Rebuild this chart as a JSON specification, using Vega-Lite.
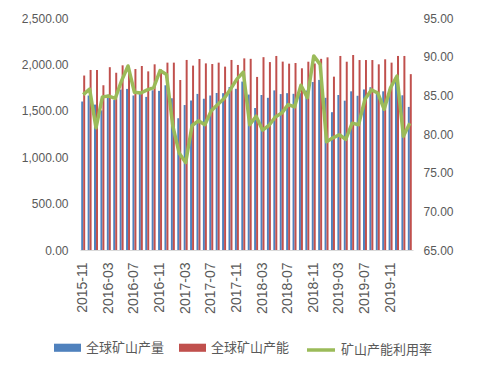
{
  "$schema": "https://vega.github.io/schema/vega-lite/v6.json",
  "width": 333,
  "height": 232,
  "autosize": {"type": "none"},
  "padding": {"left": 80, "top": 18, "right": 69, "bottom": 121},
  "background": "white",
  "config": {
    "view": {"stroke": null},
    "axis": {"labelFont": "Liberation Sans", "labelColor": "#595959", "grid": false, "title": null},
    "legend": {"padding": 0, "labelFont": "Noto Sans CJK SC", "labelColor": "#595959", "labelFontSize": 13, "title": null}
  },
  "data": {
    "values": [
      {"month": "2015-11", "全球矿山产量": 1600, "全球矿山产能": 1880, "util": 85.1},
      {"month": "2015-12", "全球矿山产量": 1665, "全球矿山产能": 1940, "util": 85.8},
      {"month": "2016-01", "全球矿山产量": 1567, "全球矿山产能": 1940, "util": 80.8},
      {"month": "2016-02", "全球矿山产量": 1505, "全球矿山产能": 1775, "util": 84.8},
      {"month": "2016-03", "全球矿山产量": 1673, "全球矿山产能": 1970, "util": 84.9},
      {"month": "2016-04", "全球矿山产量": 1616, "全球矿山产能": 1910, "util": 84.6},
      {"month": "2016-05", "全球矿山产量": 1729, "全球矿山产能": 1990, "util": 86.9},
      {"month": "2016-06", "全球矿山产量": 1736, "全球矿山产能": 1955, "util": 88.8},
      {"month": "2016-07", "全球矿山产量": 1665, "全球矿山产能": 1950, "util": 85.4},
      {"month": "2016-08", "全球矿山产量": 1691, "全球矿山产能": 1983, "util": 85.3},
      {"month": "2016-09", "全球矿山产量": 1650, "全球矿山产能": 1925, "util": 85.7},
      {"month": "2016-10", "全球矿山产量": 1721, "全球矿山产能": 2001, "util": 86.0},
      {"month": "2016-11", "全球矿山产量": 1715, "全球矿山产能": 1945, "util": 88.2},
      {"month": "2016-12", "全球矿山产量": 1775, "全球矿山产能": 2019, "util": 87.7},
      {"month": "2017-01", "全球矿山产量": 1635, "全球矿山产能": 2019, "util": 81.0},
      {"month": "2017-02", "全球矿山产量": 1420, "全球矿山产能": 1832, "util": 77.5},
      {"month": "2017-03", "全球矿山产量": 1562, "全球矿山产能": 2048, "util": 76.3},
      {"month": "2017-04", "全球矿山产量": 1611, "全球矿山产能": 1987, "util": 81.1},
      {"month": "2017-05", "全球矿山产量": 1682, "全球矿山产能": 2058, "util": 81.7},
      {"month": "2017-06", "全球矿山产量": 1630, "全球矿山产能": 2011, "util": 81.2},
      {"month": "2017-07", "全球矿山产量": 1665, "全球矿山产能": 2004, "util": 83.0},
      {"month": "2017-08", "全球矿山产量": 1692, "全球矿山产能": 2019, "util": 83.8},
      {"month": "2017-09", "全球矿山产量": 1690, "全球矿山产能": 1976, "util": 84.6},
      {"month": "2017-10", "全球矿山产量": 1757, "全球矿山产能": 2048, "util": 85.8},
      {"month": "2017-11", "全球矿山产量": 1737, "全球矿山产能": 1994, "util": 87.1},
      {"month": "2017-12", "全球矿山产量": 1815, "全球矿山产能": 2065, "util": 88.0},
      {"month": "2018-01", "全球矿山产量": 1675, "全球矿山产能": 2060, "util": 81.2},
      {"month": "2018-02", "全球矿山产量": 1530, "全球矿山产能": 1865, "util": 82.3},
      {"month": "2018-03", "全球矿山产量": 1670, "全球矿山产能": 2078, "util": 80.5},
      {"month": "2018-04", "全球矿山产量": 1640, "全球矿山产能": 2025, "util": 81.1},
      {"month": "2018-05", "全球矿山产量": 1720, "全球矿山产能": 2091, "util": 82.2},
      {"month": "2018-06", "全球矿山产量": 1680, "全球矿山产能": 2030, "util": 82.7},
      {"month": "2018-07", "全球矿山产量": 1690, "全球矿山产能": 2008, "util": 83.8},
      {"month": "2018-08", "全球矿山产量": 1683, "全球矿山产能": 2015, "util": 83.5},
      {"month": "2018-09", "全球矿山产量": 1690, "全球矿山产能": 1958, "util": 86.3},
      {"month": "2018-10", "全球矿山产量": 1718, "全球矿山产能": 2029, "util": 84.7},
      {"month": "2018-11", "全球矿山产量": 1810, "全球矿山产能": 2010, "util": 90.1},
      {"month": "2018-12", "全球矿山产量": 1833, "全球矿山产能": 2060, "util": 89.0},
      {"month": "2019-01", "全球矿山产量": 1640, "全球矿山产能": 2076, "util": 79.0},
      {"month": "2019-02", "全球矿山产量": 1485, "全球矿山产能": 1868, "util": 79.5},
      {"month": "2019-03", "全球矿山产量": 1670, "全球矿山产能": 2091, "util": 79.9},
      {"month": "2019-04", "全球矿山产量": 1609, "全球矿山产能": 2029, "util": 79.3},
      {"month": "2019-05", "全球矿山产量": 1710, "全球矿山产能": 2101, "util": 81.4},
      {"month": "2019-06", "全球矿山产量": 1662, "全球矿山产能": 2047, "util": 81.2},
      {"month": "2019-07", "全球矿山产量": 1730, "全球矿山产能": 2047, "util": 84.5},
      {"month": "2019-08", "全球矿山产量": 1754, "全球矿山产能": 2047, "util": 85.7},
      {"month": "2019-09", "全球矿山产量": 1707, "全球矿山产能": 2001, "util": 85.3},
      {"month": "2019-10", "全球矿山产量": 1710, "全球矿山产能": 2055, "util": 83.2},
      {"month": "2019-11", "全球矿山产量": 1736, "全球矿山产能": 2019, "util": 86.0},
      {"month": "2019-12", "全球矿山产量": 1830, "全球矿山产能": 2091, "util": 87.5},
      {"month": "2020-01", "全球矿山产量": 1667, "全球矿山产能": 2091, "util": 79.7},
      {"month": "2020-02", "全球矿山产量": 1542, "全球矿山产能": 1895, "util": 81.4}
    ]
  },
  "layer": [
    {
      "transform": [{"fold": ["全球矿山产量", "全球矿山产能"], "as": ["series", "value"]}],
      "mark": {"type": "bar"},
      "encoding": {
        "x": {
          "field": "month", "type": "ordinal", "sort": null,
          "scale": {"paddingInner": 0.38, "paddingOuter": 0.19},
          "axis": {
            "values": ["2015-11", "2016-03", "2016-07", "2016-11", "2017-03", "2017-07", "2017-11", "2018-03", "2018-07", "2018-11", "2019-03", "2019-07", "2019-11"],
            "labelAngle": -90, "ticks": false, "labelPadding": 12, "labelFontSize": 14,
            "domainColor": "#d9d9d9", "domainWidth": 1
          }
        },
        "xOffset": {"field": "series", "type": "nominal", "sort": ["全球矿山产量", "全球矿山产能"], "scale": {"paddingInner": 0}},
        "y": {
          "field": "value", "type": "quantitative",
          "scale": {"domain": [0, 2500]},
          "axis": {"values": [0, 500, 1000, 1500, 2000, 2500], "format": ",.2f", "ticks": false, "domain": false, "labelPadding": 12, "labelFontSize": 12}
        },
        "color": {
          "field": "series", "type": "nominal",
          "scale": {"domain": ["全球矿山产量", "全球矿山产能"], "range": ["#4F81BD", "#C0504D"]},
          "legend": {
            "orient": "none", "legendX": -26, "legendY": 316, "direction": "horizontal",
            "symbolType": "M-1,-0.3H1V0.3H-1Z", "symbolSize": 729, "symbolStrokeWidth": 0,
            "labelOffset": 5, "columnPadding": 14
          }
        }
      }
    },
    {
      "mark": {"type": "line", "strokeWidth": 3.5, "strokeJoin": "round"},
      "encoding": {
        "x": {"field": "month", "type": "ordinal", "sort": null},
        "y": {
          "field": "util", "type": "quantitative",
          "scale": {"domain": [65, 95]},
          "axis": {"orient": "right", "values": [65, 70, 75, 80, 85, 90, 95], "format": ".2f", "ticks": false, "domain": false, "labelPadding": 10, "labelFontSize": 12}
        },
        "stroke": {
          "datum": "矿山产能利用率", "type": "nominal",
          "scale": {"domain": ["矿山产能利用率"], "range": ["#9BBB59"]},
          "legend": {
            "orient": "none", "legendX": 225, "legendY": 316,
            "symbolType": "stroke", "symbolSize": 784, "symbolStrokeWidth": 3.5, "labelOffset": 4
          }
        }
      }
    }
  ],
  "resolve": {"scale": {"y": "independent", "color": "independent"}}
}
